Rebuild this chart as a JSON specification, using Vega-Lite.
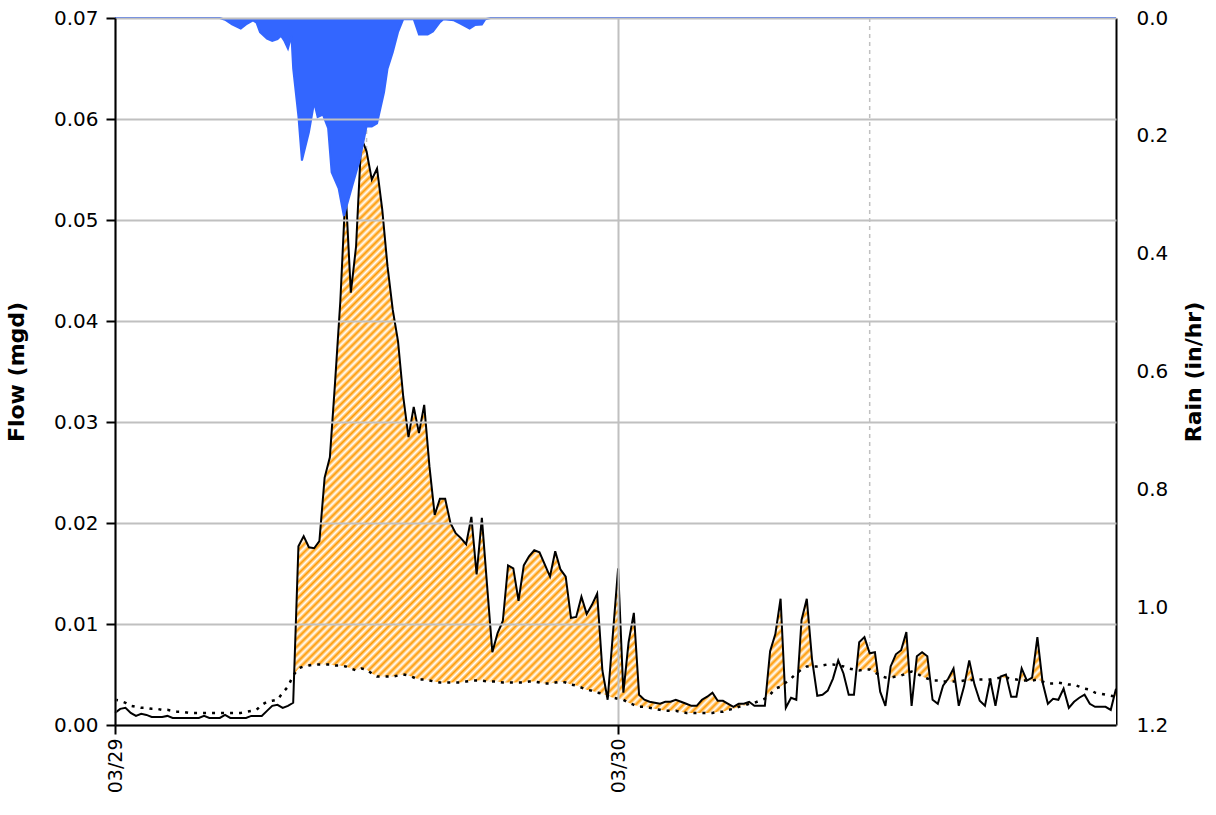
{
"$schema": "https://vega.github.io/schema/vega-lite/v6.json",
"width": 1001, "height": 707,
"autosize": {"type": "none"},
"padding": {"left": 115, "top": 18, "right": 100, "bottom": 90},
"background": "white",
"config": {"view": {"stroke": null}, "font": "DejaVu Sans"},
"datasets": {
"noon": [{"time": "2024-03-29T12:00"}, {"time": "2024-03-30T12:00"}],
"rain": [
{"time":"2024-03-29T00:00","rain":0},{"time":"2024-03-29T05:00","rain":0},{"time":"2024-03-29T05:15","rain":0.003},{"time":"2024-03-29T05:35","rain":0.011},{"time":"2024-03-29T06:00","rain":0.018},{"time":"2024-03-29T06:15","rain":0.011},{"time":"2024-03-29T06:35","rain":0.004},{"time":"2024-03-29T06:45","rain":0.008},{"time":"2024-03-29T06:55","rain":0.024},{"time":"2024-03-29T07:15","rain":0.035},{"time":"2024-03-29T07:30","rain":0.039},{"time":"2024-03-29T07:45","rain":0.036},{"time":"2024-03-29T07:55","rain":0.030},{"time":"2024-03-29T08:05","rain":0.039},{"time":"2024-03-29T08:15","rain":0.052},{"time":"2024-03-29T08:25","rain":0.030},{"time":"2024-03-29T08:30","rain":0.086},{"time":"2024-03-29T08:45","rain":0.167},{"time":"2024-03-29T08:55","rain":0.242},{"time":"2024-03-29T09:15","rain":0.194},{"time":"2024-03-29T09:30","rain":0.143},{"time":"2024-03-29T09:40","rain":0.168},{"time":"2024-03-29T09:55","rain":0.164},{"time":"2024-03-29T10:10","rain":0.187},{"time":"2024-03-29T10:20","rain":0.262},{"time":"2024-03-29T10:40","rain":0.289},{"time":"2024-03-29T10:55","rain":0.336},{"time":"2024-03-29T11:20","rain":0.283},{"time":"2024-03-29T11:40","rain":0.242},{"time":"2024-03-29T12:00","rain":0.184},{"time":"2024-03-29T12:15","rain":0.184},{"time":"2024-03-29T12:30","rain":0.179},{"time":"2024-03-29T12:50","rain":0.126},{"time":"2024-03-29T13:00","rain":0.086},{"time":"2024-03-29T13:15","rain":0.058},{"time":"2024-03-29T13:30","rain":0.024},{"time":"2024-03-29T13:45","rain":0.002},{"time":"2024-03-29T14:15","rain":0.002},{"time":"2024-03-29T14:30","rain":0.028},{"time":"2024-03-29T14:55","rain":0.028},{"time":"2024-03-29T15:10","rain":0.023},{"time":"2024-03-29T15:30","rain":0.007},{"time":"2024-03-29T15:40","rain":0.002},{"time":"2024-03-29T16:10","rain":0.004},{"time":"2024-03-29T16:30","rain":0.010},{"time":"2024-03-29T16:55","rain":0.018},{"time":"2024-03-29T17:10","rain":0.012},{"time":"2024-03-29T17:30","rain":0.011},{"time":"2024-03-29T17:40","rain":0.002},{"time":"2024-03-29T17:55","rain":0},{"time":"2024-03-30T23:45","rain":0}
],
"flow": [
{"time":"2024-03-29T00:00","flow":0.0012,"dwf":0.0025},{"time":"2024-03-29T00:15","flow":0.0016,"dwf":0.0024},{"time":"2024-03-29T00:30","flow":0.0017,"dwf":0.0022},{"time":"2024-03-29T00:45","flow":0.0012,"dwf":0.0019},
{"time":"2024-03-29T01:00","flow":0.0009,"dwf":0.0018},{"time":"2024-03-29T01:15","flow":0.0011,"dwf":0.0017},{"time":"2024-03-29T01:30","flow":0.0010,"dwf":0.0017},{"time":"2024-03-29T01:45","flow":0.0008,"dwf":0.0016},
{"time":"2024-03-29T02:00","flow":0.0008,"dwf":0.0016},{"time":"2024-03-29T02:15","flow":0.0008,"dwf":0.0015},{"time":"2024-03-29T02:30","flow":0.0009,"dwf":0.0015},{"time":"2024-03-29T02:45","flow":0.0007,"dwf":0.0014},
{"time":"2024-03-29T03:00","flow":0.0007,"dwf":0.0013},{"time":"2024-03-29T03:15","flow":0.0007,"dwf":0.0013},{"time":"2024-03-29T03:30","flow":0.0007,"dwf":0.0012},{"time":"2024-03-29T03:45","flow":0.0007,"dwf":0.0012},
{"time":"2024-03-29T04:00","flow":0.0007,"dwf":0.0012},{"time":"2024-03-29T04:15","flow":0.0009,"dwf":0.0012},{"time":"2024-03-29T04:30","flow":0.0007,"dwf":0.0012},{"time":"2024-03-29T04:45","flow":0.0007,"dwf":0.0012},
{"time":"2024-03-29T05:00","flow":0.0007,"dwf":0.0012},{"time":"2024-03-29T05:15","flow":0.0010,"dwf":0.0012},{"time":"2024-03-29T05:30","flow":0.0007,"dwf":0.0012},{"time":"2024-03-29T05:45","flow":0.0007,"dwf":0.0012},
{"time":"2024-03-29T06:00","flow":0.0007,"dwf":0.0012},{"time":"2024-03-29T06:15","flow":0.0007,"dwf":0.0013},{"time":"2024-03-29T06:30","flow":0.0009,"dwf":0.0014},{"time":"2024-03-29T06:45","flow":0.0009,"dwf":0.0015},
{"time":"2024-03-29T07:00","flow":0.0009,"dwf":0.0020},{"time":"2024-03-29T07:15","flow":0.0014,"dwf":0.0023},{"time":"2024-03-29T07:30","flow":0.0019,"dwf":0.0024},{"time":"2024-03-29T07:45","flow":0.0020,"dwf":0.0025},
{"time":"2024-03-29T08:00","flow":0.0017,"dwf":0.0032},{"time":"2024-03-29T08:15","flow":0.0019,"dwf":0.0038},{"time":"2024-03-29T08:30","flow":0.0022,"dwf":0.0049},{"time":"2024-03-29T08:45","flow":0.0177,"dwf":0.0056},
{"time":"2024-03-29T09:00","flow":0.0187,"dwf":0.0058},{"time":"2024-03-29T09:15","flow":0.0176,"dwf":0.0059},{"time":"2024-03-29T09:30","flow":0.0175,"dwf":0.0060},{"time":"2024-03-29T09:45","flow":0.0182,"dwf":0.0060},
{"time":"2024-03-29T10:00","flow":0.0245,"dwf":0.0060},{"time":"2024-03-29T10:15","flow":0.0265,"dwf":0.0060},{"time":"2024-03-29T10:30","flow":0.0340,"dwf":0.0059},{"time":"2024-03-29T10:45","flow":0.0420,"dwf":0.0059},
{"time":"2024-03-29T11:00","flow":0.0530,"dwf":0.0058},{"time":"2024-03-29T11:15","flow":0.0428,"dwf":0.0056},{"time":"2024-03-29T11:30","flow":0.0474,"dwf":0.0054},{"time":"2024-03-29T11:45","flow":0.0581,"dwf":0.0056},
{"time":"2024-03-29T12:00","flow":0.0568,"dwf":0.0055},{"time":"2024-03-29T12:15","flow":0.0540,"dwf":0.0051},{"time":"2024-03-29T12:30","flow":0.0551,"dwf":0.0048},{"time":"2024-03-29T12:45","flow":0.0510,"dwf":0.0048},
{"time":"2024-03-29T13:00","flow":0.0454,"dwf":0.0048},{"time":"2024-03-29T13:15","flow":0.0411,"dwf":0.0048},{"time":"2024-03-29T13:30","flow":0.0380,"dwf":0.0049},{"time":"2024-03-29T13:45","flow":0.0325,"dwf":0.0050},
{"time":"2024-03-29T14:00","flow":0.0285,"dwf":0.0049},{"time":"2024-03-29T14:15","flow":0.0315,"dwf":0.0047},{"time":"2024-03-29T14:30","flow":0.0289,"dwf":0.0045},{"time":"2024-03-29T14:45","flow":0.0317,"dwf":0.0045},
{"time":"2024-03-29T15:00","flow":0.0256,"dwf":0.0044},{"time":"2024-03-29T15:15","flow":0.0208,"dwf":0.0043},{"time":"2024-03-29T15:30","flow":0.0224,"dwf":0.0042},{"time":"2024-03-29T15:45","flow":0.0224,"dwf":0.0042},
{"time":"2024-03-29T16:00","flow":0.0200,"dwf":0.0042},{"time":"2024-03-29T16:15","flow":0.0190,"dwf":0.0042},{"time":"2024-03-29T16:30","flow":0.0185,"dwf":0.0042},{"time":"2024-03-29T16:45","flow":0.0179,"dwf":0.0043},
{"time":"2024-03-29T17:00","flow":0.0206,"dwf":0.0044},{"time":"2024-03-29T17:15","flow":0.0149,"dwf":0.0044},{"time":"2024-03-29T17:30","flow":0.0205,"dwf":0.0044},{"time":"2024-03-29T17:45","flow":0.0138,"dwf":0.0043},
{"time":"2024-03-29T18:00","flow":0.0072,"dwf":0.0043},{"time":"2024-03-29T18:15","flow":0.0091,"dwf":0.0043},{"time":"2024-03-29T18:30","flow":0.0103,"dwf":0.0042},{"time":"2024-03-29T18:45","flow":0.0158,"dwf":0.0042},
{"time":"2024-03-29T19:00","flow":0.0155,"dwf":0.0042},{"time":"2024-03-29T19:15","flow":0.0123,"dwf":0.0042},{"time":"2024-03-29T19:30","flow":0.0158,"dwf":0.0042},{"time":"2024-03-29T19:45","flow":0.0167,"dwf":0.0043},
{"time":"2024-03-29T20:00","flow":0.0173,"dwf":0.0043},{"time":"2024-03-29T20:15","flow":0.0171,"dwf":0.0042},{"time":"2024-03-29T20:30","flow":0.0159,"dwf":0.0041},{"time":"2024-03-29T20:45","flow":0.0147,"dwf":0.0041},
{"time":"2024-03-29T21:00","flow":0.0172,"dwf":0.0042},{"time":"2024-03-29T21:15","flow":0.0154,"dwf":0.0043},{"time":"2024-03-29T21:30","flow":0.0147,"dwf":0.0042},{"time":"2024-03-29T21:45","flow":0.0106,"dwf":0.0040},
{"time":"2024-03-29T22:00","flow":0.0107,"dwf":0.0039},{"time":"2024-03-29T22:15","flow":0.0127,"dwf":0.0037},{"time":"2024-03-29T22:30","flow":0.0110,"dwf":0.0035},{"time":"2024-03-29T22:45","flow":0.0119,"dwf":0.0034},
{"time":"2024-03-29T23:00","flow":0.0130,"dwf":0.0032},{"time":"2024-03-29T23:15","flow":0.0054,"dwf":0.0031},{"time":"2024-03-29T23:30","flow":0.0025,"dwf":0.0029},{"time":"2024-03-29T23:45","flow":0.0090,"dwf":0.0027},
{"time":"2024-03-30T00:00","flow":0.0155,"dwf":0.0026},{"time":"2024-03-30T00:15","flow":0.0032,"dwf":0.0025},{"time":"2024-03-30T00:30","flow":0.0082,"dwf":0.0022},{"time":"2024-03-30T00:45","flow":0.0111,"dwf":0.0020},
{"time":"2024-03-30T01:00","flow":0.0030,"dwf":0.0018},{"time":"2024-03-30T01:15","flow":0.0025,"dwf":0.0018},{"time":"2024-03-30T01:30","flow":0.0023,"dwf":0.0017},{"time":"2024-03-30T01:45","flow":0.0022,"dwf":0.0016},
{"time":"2024-03-30T02:00","flow":0.0021,"dwf":0.0015},{"time":"2024-03-30T02:15","flow":0.0023,"dwf":0.0014},{"time":"2024-03-30T02:30","flow":0.0023,"dwf":0.0014},{"time":"2024-03-30T02:45","flow":0.0025,"dwf":0.0014},
{"time":"2024-03-30T03:00","flow":0.0023,"dwf":0.0013},{"time":"2024-03-30T03:15","flow":0.0021,"dwf":0.0012},{"time":"2024-03-30T03:30","flow":0.0019,"dwf":0.0012},{"time":"2024-03-30T03:45","flow":0.0019,"dwf":0.0012},
{"time":"2024-03-30T04:00","flow":0.0025,"dwf":0.0012},{"time":"2024-03-30T04:15","flow":0.0028,"dwf":0.0012},{"time":"2024-03-30T04:30","flow":0.0032,"dwf":0.0012},{"time":"2024-03-30T04:45","flow":0.0024,"dwf":0.0013},
{"time":"2024-03-30T05:00","flow":0.0024,"dwf":0.0013},{"time":"2024-03-30T05:15","flow":0.0021,"dwf":0.0015},{"time":"2024-03-30T05:30","flow":0.0018,"dwf":0.0016},{"time":"2024-03-30T05:45","flow":0.0021,"dwf":0.0018},
{"time":"2024-03-30T06:00","flow":0.0021,"dwf":0.0019},{"time":"2024-03-30T06:15","flow":0.0023,"dwf":0.0021},{"time":"2024-03-30T06:30","flow":0.0019,"dwf":0.0022},{"time":"2024-03-30T06:45","flow":0.0019,"dwf":0.0024},
{"time":"2024-03-30T07:00","flow":0.0019,"dwf":0.0026},{"time":"2024-03-30T07:15","flow":0.0073,"dwf":0.0030},{"time":"2024-03-30T07:30","flow":0.0090,"dwf":0.0036},{"time":"2024-03-30T07:45","flow":0.0125,"dwf":0.0038},
{"time":"2024-03-30T08:00","flow":0.0017,"dwf":0.0042},{"time":"2024-03-30T08:15","flow":0.0027,"dwf":0.0046},{"time":"2024-03-30T08:30","flow":0.0025,"dwf":0.0051},{"time":"2024-03-30T08:45","flow":0.0104,"dwf":0.0055},
{"time":"2024-03-30T09:00","flow":0.0125,"dwf":0.0058},{"time":"2024-03-30T09:15","flow":0.0065,"dwf":0.0058},{"time":"2024-03-30T09:30","flow":0.0029,"dwf":0.0058},{"time":"2024-03-30T09:45","flow":0.0030,"dwf":0.0059},
{"time":"2024-03-30T10:00","flow":0.0034,"dwf":0.0060},{"time":"2024-03-30T10:15","flow":0.0046,"dwf":0.0060},{"time":"2024-03-30T10:30","flow":0.0064,"dwf":0.0059},{"time":"2024-03-30T10:45","flow":0.0051,"dwf":0.0058},
{"time":"2024-03-30T11:00","flow":0.0030,"dwf":0.0056},{"time":"2024-03-30T11:15","flow":0.0030,"dwf":0.0055},{"time":"2024-03-30T11:30","flow":0.0082,"dwf":0.0054},{"time":"2024-03-30T11:45","flow":0.0087,"dwf":0.0055},
{"time":"2024-03-30T12:00","flow":0.0071,"dwf":0.0055},{"time":"2024-03-30T12:15","flow":0.0072,"dwf":0.0052},{"time":"2024-03-30T12:30","flow":0.0033,"dwf":0.0049},{"time":"2024-03-30T12:45","flow":0.0019,"dwf":0.0047},
{"time":"2024-03-30T13:00","flow":0.0058,"dwf":0.0047},{"time":"2024-03-30T13:15","flow":0.0070,"dwf":0.0048},{"time":"2024-03-30T13:30","flow":0.0074,"dwf":0.0049},{"time":"2024-03-30T13:45","flow":0.0092,"dwf":0.0051},
{"time":"2024-03-30T14:00","flow":0.0019,"dwf":0.0053},{"time":"2024-03-30T14:15","flow":0.0068,"dwf":0.0051},{"time":"2024-03-30T14:30","flow":0.0072,"dwf":0.0048},{"time":"2024-03-30T14:45","flow":0.0068,"dwf":0.0046},
{"time":"2024-03-30T15:00","flow":0.0025,"dwf":0.0044},{"time":"2024-03-30T15:15","flow":0.0021,"dwf":0.0044},{"time":"2024-03-30T15:30","flow":0.0039,"dwf":0.0043},{"time":"2024-03-30T15:45","flow":0.0046,"dwf":0.0043},
{"time":"2024-03-30T16:00","flow":0.0056,"dwf":0.0043},{"time":"2024-03-30T16:15","flow":0.0019,"dwf":0.0043},{"time":"2024-03-30T16:30","flow":0.0038,"dwf":0.0044},{"time":"2024-03-30T16:45","flow":0.0064,"dwf":0.0044},
{"time":"2024-03-30T17:00","flow":0.0040,"dwf":0.0045},{"time":"2024-03-30T17:15","flow":0.0024,"dwf":0.0045},{"time":"2024-03-30T17:30","flow":0.0019,"dwf":0.0045},{"time":"2024-03-30T17:45","flow":0.0045,"dwf":0.0045},
{"time":"2024-03-30T18:00","flow":0.0019,"dwf":0.0046},{"time":"2024-03-30T18:15","flow":0.0048,"dwf":0.0047},{"time":"2024-03-30T18:30","flow":0.0050,"dwf":0.0047},{"time":"2024-03-30T18:45","flow":0.0028,"dwf":0.0046},
{"time":"2024-03-30T19:00","flow":0.0028,"dwf":0.0045},{"time":"2024-03-30T19:15","flow":0.0056,"dwf":0.0044},{"time":"2024-03-30T19:30","flow":0.0044,"dwf":0.0044},{"time":"2024-03-30T19:45","flow":0.0047,"dwf":0.0044},
{"time":"2024-03-30T20:00","flow":0.0087,"dwf":0.0045},{"time":"2024-03-30T20:15","flow":0.0042,"dwf":0.0043},{"time":"2024-03-30T20:30","flow":0.0021,"dwf":0.0041},{"time":"2024-03-30T20:45","flow":0.0026,"dwf":0.0041},
{"time":"2024-03-30T21:00","flow":0.0025,"dwf":0.0042},{"time":"2024-03-30T21:15","flow":0.0036,"dwf":0.0041},{"time":"2024-03-30T21:30","flow":0.0017,"dwf":0.0040},{"time":"2024-03-30T21:45","flow":0.0023,"dwf":0.0040},
{"time":"2024-03-30T22:00","flow":0.0027,"dwf":0.0038},{"time":"2024-03-30T22:15","flow":0.0030,"dwf":0.0036},{"time":"2024-03-30T22:30","flow":0.0021,"dwf":0.0035},{"time":"2024-03-30T22:45","flow":0.0018,"dwf":0.0032},
{"time":"2024-03-30T23:00","flow":0.0018,"dwf":0.0031},{"time":"2024-03-30T23:15","flow":0.0018,"dwf":0.0030},{"time":"2024-03-30T23:30","flow":0.0015,"dwf":0.0029},{"time":"2024-03-30T23:45","flow":0.0036,"dwf":0.0028}
]
},
"layer": [
{"data": {"name": "noon"},
 "mark": {"type": "rule", "color": "#c0c0c0", "strokeDash": [4, 4], "strokeWidth": 1.5},
 "encoding": {
  "x": {"field": "time", "type": "temporal", "title": null,
   "scale": {"domain": [{"year": 2024, "month": 3, "date": 29, "hours": 0, "minutes": 0}, {"year": 2024, "month": 3, "date": 30, "hours": 23, "minutes": 45}], "nice": false},
   "axis": {"values": [{"year": 2024, "month": 3, "date": 29}, {"year": 2024, "month": 3, "date": 30}], "format": "%m/%d", "labelAngle": 270, "labelAlign": "right", "labelBaseline": "middle", "labelFontSize": 19, "labelColor": "black", "labelPadding": 4, "tickSize": 9, "tickWidth": 2, "tickColor": "black", "domainColor": "black", "domainWidth": 2, "grid": true, "gridColor": "#c0c0c0", "gridWidth": 2, "zindex": 1}}
 }},
{"data": {"name": "flow"},
 "layer": [
  {"mark": {"type": "area", "opacity": 1, "fill": {"gradient": "linear", "x1": 0, "y1": 0, "x2": 1.18, "y2": 0.692, "stops": [
{"offset":0,"color":"#f90"},{"offset":0.0025,"color":"#fff"},{"offset":0.005,"color":"#f90"},{"offset":0.0075,"color":"#fff"},
{"offset":0.01,"color":"#f90"},{"offset":0.0125,"color":"#fff"},{"offset":0.015,"color":"#f90"},{"offset":0.0175,"color":"#fff"},
{"offset":0.02,"color":"#f90"},{"offset":0.0225,"color":"#fff"},{"offset":0.025,"color":"#f90"},{"offset":0.0275,"color":"#fff"},
{"offset":0.03,"color":"#f90"},{"offset":0.0325,"color":"#fff"},{"offset":0.035,"color":"#f90"},{"offset":0.0375,"color":"#fff"},
{"offset":0.04,"color":"#f90"},{"offset":0.0425,"color":"#fff"},{"offset":0.045,"color":"#f90"},{"offset":0.0475,"color":"#fff"},
{"offset":0.05,"color":"#f90"},{"offset":0.0525,"color":"#fff"},{"offset":0.055,"color":"#f90"},{"offset":0.0575,"color":"#fff"},
{"offset":0.06,"color":"#f90"},{"offset":0.0625,"color":"#fff"},{"offset":0.065,"color":"#f90"},{"offset":0.0675,"color":"#fff"},
{"offset":0.07,"color":"#f90"},{"offset":0.0725,"color":"#fff"},{"offset":0.075,"color":"#f90"},{"offset":0.0775,"color":"#fff"},
{"offset":0.08,"color":"#f90"},{"offset":0.0825,"color":"#fff"},{"offset":0.085,"color":"#f90"},{"offset":0.0875,"color":"#fff"},
{"offset":0.09,"color":"#f90"},{"offset":0.0925,"color":"#fff"},{"offset":0.095,"color":"#f90"},{"offset":0.0975,"color":"#fff"},
{"offset":0.1,"color":"#f90"},{"offset":0.1025,"color":"#fff"},{"offset":0.105,"color":"#f90"},{"offset":0.1075,"color":"#fff"},
{"offset":0.11,"color":"#f90"},{"offset":0.1125,"color":"#fff"},{"offset":0.115,"color":"#f90"},{"offset":0.1175,"color":"#fff"},
{"offset":0.12,"color":"#f90"},{"offset":0.1225,"color":"#fff"},{"offset":0.125,"color":"#f90"},{"offset":0.1275,"color":"#fff"},
{"offset":0.13,"color":"#f90"},{"offset":0.1325,"color":"#fff"},{"offset":0.135,"color":"#f90"},{"offset":0.1375,"color":"#fff"},
{"offset":0.14,"color":"#f90"},{"offset":0.1425,"color":"#fff"},{"offset":0.145,"color":"#f90"},{"offset":0.1475,"color":"#fff"},
{"offset":0.15,"color":"#f90"},{"offset":0.1525,"color":"#fff"},{"offset":0.155,"color":"#f90"},{"offset":0.1575,"color":"#fff"},
{"offset":0.16,"color":"#f90"},{"offset":0.1625,"color":"#fff"},{"offset":0.165,"color":"#f90"},{"offset":0.1675,"color":"#fff"},
{"offset":0.17,"color":"#f90"},{"offset":0.1725,"color":"#fff"},{"offset":0.175,"color":"#f90"},{"offset":0.1775,"color":"#fff"},
{"offset":0.18,"color":"#f90"},{"offset":0.1825,"color":"#fff"},{"offset":0.185,"color":"#f90"},{"offset":0.1875,"color":"#fff"},
{"offset":0.19,"color":"#f90"},{"offset":0.1925,"color":"#fff"},{"offset":0.195,"color":"#f90"},{"offset":0.1975,"color":"#fff"},
{"offset":0.2,"color":"#f90"},{"offset":0.2025,"color":"#fff"},{"offset":0.205,"color":"#f90"},{"offset":0.2075,"color":"#fff"},
{"offset":0.21,"color":"#f90"},{"offset":0.2125,"color":"#fff"},{"offset":0.215,"color":"#f90"},{"offset":0.2175,"color":"#fff"},
{"offset":0.22,"color":"#f90"},{"offset":0.2225,"color":"#fff"},{"offset":0.225,"color":"#f90"},{"offset":0.2275,"color":"#fff"},
{"offset":0.23,"color":"#f90"},{"offset":0.2325,"color":"#fff"},{"offset":0.235,"color":"#f90"},{"offset":0.2375,"color":"#fff"},
{"offset":0.24,"color":"#f90"},{"offset":0.2425,"color":"#fff"},{"offset":0.245,"color":"#f90"},{"offset":0.2475,"color":"#fff"},
{"offset":0.25,"color":"#f90"},{"offset":0.2525,"color":"#fff"},{"offset":0.255,"color":"#f90"},{"offset":0.2575,"color":"#fff"},
{"offset":0.26,"color":"#f90"},{"offset":0.2625,"color":"#fff"},{"offset":0.265,"color":"#f90"},{"offset":0.2675,"color":"#fff"},
{"offset":0.27,"color":"#f90"},{"offset":0.2725,"color":"#fff"},{"offset":0.275,"color":"#f90"},{"offset":0.2775,"color":"#fff"},
{"offset":0.28,"color":"#f90"},{"offset":0.2825,"color":"#fff"},{"offset":0.285,"color":"#f90"},{"offset":0.2875,"color":"#fff"},
{"offset":0.29,"color":"#f90"},{"offset":0.2925,"color":"#fff"},{"offset":0.295,"color":"#f90"},{"offset":0.2975,"color":"#fff"},
{"offset":0.3,"color":"#f90"},{"offset":0.3025,"color":"#fff"},{"offset":0.305,"color":"#f90"},{"offset":0.3075,"color":"#fff"},
{"offset":0.31,"color":"#f90"},{"offset":0.3125,"color":"#fff"},{"offset":0.315,"color":"#f90"},{"offset":0.3175,"color":"#fff"},
{"offset":0.32,"color":"#f90"},{"offset":0.3225,"color":"#fff"},{"offset":0.325,"color":"#f90"},{"offset":0.3275,"color":"#fff"},
{"offset":0.33,"color":"#f90"},{"offset":0.3325,"color":"#fff"},{"offset":0.335,"color":"#f90"},{"offset":0.3375,"color":"#fff"},
{"offset":0.34,"color":"#f90"},{"offset":0.3425,"color":"#fff"},{"offset":0.345,"color":"#f90"},{"offset":0.3475,"color":"#fff"},
{"offset":0.35,"color":"#f90"},{"offset":0.3525,"color":"#fff"},{"offset":0.355,"color":"#f90"},{"offset":0.3575,"color":"#fff"},
{"offset":0.36,"color":"#f90"},{"offset":0.3625,"color":"#fff"},{"offset":0.365,"color":"#f90"},{"offset":0.3675,"color":"#fff"},
{"offset":0.37,"color":"#f90"},{"offset":0.3725,"color":"#fff"},{"offset":0.375,"color":"#f90"},{"offset":0.3775,"color":"#fff"},
{"offset":0.38,"color":"#f90"},{"offset":0.3825,"color":"#fff"},{"offset":0.385,"color":"#f90"},{"offset":0.3875,"color":"#fff"},
{"offset":0.39,"color":"#f90"},{"offset":0.3925,"color":"#fff"},{"offset":0.395,"color":"#f90"},{"offset":0.3975,"color":"#fff"},
{"offset":0.4,"color":"#f90"},{"offset":0.4025,"color":"#fff"},{"offset":0.405,"color":"#f90"},{"offset":0.4075,"color":"#fff"},
{"offset":0.41,"color":"#f90"},{"offset":0.4125,"color":"#fff"},{"offset":0.415,"color":"#f90"},{"offset":0.4175,"color":"#fff"},
{"offset":0.42,"color":"#f90"},{"offset":0.4225,"color":"#fff"},{"offset":0.425,"color":"#f90"},{"offset":0.4275,"color":"#fff"},
{"offset":0.43,"color":"#f90"},{"offset":0.4325,"color":"#fff"},{"offset":0.435,"color":"#f90"},{"offset":0.4375,"color":"#fff"},
{"offset":0.44,"color":"#f90"},{"offset":0.4425,"color":"#fff"},{"offset":0.445,"color":"#f90"},{"offset":0.4475,"color":"#fff"},
{"offset":0.45,"color":"#f90"},{"offset":0.4525,"color":"#fff"},{"offset":0.455,"color":"#f90"},{"offset":0.4575,"color":"#fff"},
{"offset":0.46,"color":"#f90"},{"offset":0.4625,"color":"#fff"},{"offset":0.465,"color":"#f90"},{"offset":0.4675,"color":"#fff"},
{"offset":0.47,"color":"#f90"},{"offset":0.4725,"color":"#fff"},{"offset":0.475,"color":"#f90"},{"offset":0.4775,"color":"#fff"},
{"offset":0.48,"color":"#f90"},{"offset":0.4825,"color":"#fff"},{"offset":0.485,"color":"#f90"},{"offset":0.4875,"color":"#fff"},
{"offset":0.49,"color":"#f90"},{"offset":0.4925,"color":"#fff"},{"offset":0.495,"color":"#f90"},{"offset":0.4975,"color":"#fff"},
{"offset":0.5,"color":"#f90"},{"offset":0.5025,"color":"#fff"},{"offset":0.505,"color":"#f90"},{"offset":0.5075,"color":"#fff"},
{"offset":0.51,"color":"#f90"},{"offset":0.5125,"color":"#fff"},{"offset":0.515,"color":"#f90"},{"offset":0.5175,"color":"#fff"},
{"offset":0.52,"color":"#f90"},{"offset":0.5225,"color":"#fff"},{"offset":0.525,"color":"#f90"},{"offset":0.5275,"color":"#fff"},
{"offset":0.53,"color":"#f90"},{"offset":0.5325,"color":"#fff"},{"offset":0.535,"color":"#f90"},{"offset":0.5375,"color":"#fff"},
{"offset":0.54,"color":"#f90"},{"offset":0.5425,"color":"#fff"},{"offset":0.545,"color":"#f90"},{"offset":0.5475,"color":"#fff"},
{"offset":0.55,"color":"#f90"},{"offset":0.5525,"color":"#fff"},{"offset":0.555,"color":"#f90"},{"offset":0.5575,"color":"#fff"},
{"offset":0.56,"color":"#f90"},{"offset":0.5625,"color":"#fff"},{"offset":0.565,"color":"#f90"},{"offset":0.5675,"color":"#fff"},
{"offset":0.57,"color":"#f90"},{"offset":0.5725,"color":"#fff"},{"offset":0.575,"color":"#f90"},{"offset":0.5775,"color":"#fff"},
{"offset":0.58,"color":"#f90"},{"offset":0.5825,"color":"#fff"},{"offset":0.585,"color":"#f90"},{"offset":0.5875,"color":"#fff"},
{"offset":0.59,"color":"#f90"},{"offset":0.5925,"color":"#fff"},{"offset":0.595,"color":"#f90"},{"offset":0.5975,"color":"#fff"},
{"offset":0.6,"color":"#f90"},{"offset":0.6025,"color":"#fff"},{"offset":0.605,"color":"#f90"},{"offset":0.6075,"color":"#fff"},
{"offset":0.61,"color":"#f90"},{"offset":0.6125,"color":"#fff"},{"offset":0.615,"color":"#f90"},{"offset":0.6175,"color":"#fff"},
{"offset":0.62,"color":"#f90"},{"offset":0.6225,"color":"#fff"},{"offset":0.625,"color":"#f90"},{"offset":0.6275,"color":"#fff"},
{"offset":0.63,"color":"#f90"},{"offset":0.6325,"color":"#fff"},{"offset":0.635,"color":"#f90"},{"offset":0.6375,"color":"#fff"},
{"offset":0.64,"color":"#f90"},{"offset":0.6425,"color":"#fff"},{"offset":0.645,"color":"#f90"},{"offset":0.6475,"color":"#fff"},
{"offset":0.65,"color":"#f90"},{"offset":0.6525,"color":"#fff"},{"offset":0.655,"color":"#f90"},{"offset":0.6575,"color":"#fff"},
{"offset":0.66,"color":"#f90"},{"offset":0.6625,"color":"#fff"},{"offset":0.665,"color":"#f90"},{"offset":0.6675,"color":"#fff"},
{"offset":0.67,"color":"#f90"},{"offset":0.6725,"color":"#fff"},{"offset":0.675,"color":"#f90"},{"offset":0.6775,"color":"#fff"},
{"offset":0.68,"color":"#f90"},{"offset":0.6825,"color":"#fff"},{"offset":0.685,"color":"#f90"},{"offset":0.6875,"color":"#fff"},
{"offset":0.69,"color":"#f90"},{"offset":0.6925,"color":"#fff"},{"offset":0.695,"color":"#f90"},{"offset":0.6975,"color":"#fff"},
{"offset":0.7,"color":"#f90"},{"offset":0.7025,"color":"#fff"},{"offset":0.705,"color":"#f90"},{"offset":0.7075,"color":"#fff"},
{"offset":0.71,"color":"#f90"},{"offset":0.7125,"color":"#fff"},{"offset":0.715,"color":"#f90"},{"offset":0.7175,"color":"#fff"},
{"offset":0.72,"color":"#f90"},{"offset":0.7225,"color":"#fff"},{"offset":0.725,"color":"#f90"},{"offset":0.7275,"color":"#fff"},
{"offset":0.73,"color":"#f90"},{"offset":0.7325,"color":"#fff"},{"offset":0.735,"color":"#f90"},{"offset":0.7375,"color":"#fff"},
{"offset":0.74,"color":"#f90"},{"offset":0.7425,"color":"#fff"},{"offset":0.745,"color":"#f90"},{"offset":0.7475,"color":"#fff"},
{"offset":0.75,"color":"#f90"},{"offset":0.7525,"color":"#fff"},{"offset":0.755,"color":"#f90"},{"offset":0.7575,"color":"#fff"},
{"offset":0.76,"color":"#f90"},{"offset":0.7625,"color":"#fff"},{"offset":0.765,"color":"#f90"},{"offset":0.7675,"color":"#fff"},
{"offset":0.77,"color":"#f90"},{"offset":0.7725,"color":"#fff"},{"offset":0.775,"color":"#f90"},{"offset":0.7775,"color":"#fff"},
{"offset":0.78,"color":"#f90"},{"offset":0.7825,"color":"#fff"},{"offset":0.785,"color":"#f90"},{"offset":0.7875,"color":"#fff"},
{"offset":0.79,"color":"#f90"},{"offset":0.7925,"color":"#fff"},{"offset":0.795,"color":"#f90"},{"offset":0.7975,"color":"#fff"},
{"offset":0.8,"color":"#f90"},{"offset":0.8025,"color":"#fff"},{"offset":0.805,"color":"#f90"},{"offset":0.8075,"color":"#fff"},
{"offset":0.81,"color":"#f90"},{"offset":0.8125,"color":"#fff"},{"offset":0.815,"color":"#f90"},{"offset":0.8175,"color":"#fff"},
{"offset":0.82,"color":"#f90"},{"offset":0.8225,"color":"#fff"},{"offset":0.825,"color":"#f90"},{"offset":0.8275,"color":"#fff"},
{"offset":0.83,"color":"#f90"},{"offset":0.8325,"color":"#fff"},{"offset":0.835,"color":"#f90"},{"offset":0.8375,"color":"#fff"},
{"offset":0.84,"color":"#f90"},{"offset":0.8425,"color":"#fff"},{"offset":0.845,"color":"#f90"},{"offset":0.8475,"color":"#fff"},
{"offset":0.85,"color":"#f90"},{"offset":0.8525,"color":"#fff"},{"offset":0.855,"color":"#f90"},{"offset":0.8575,"color":"#fff"},
{"offset":0.86,"color":"#f90"},{"offset":0.8625,"color":"#fff"},{"offset":0.865,"color":"#f90"},{"offset":0.8675,"color":"#fff"},
{"offset":0.87,"color":"#f90"},{"offset":0.8725,"color":"#fff"},{"offset":0.875,"color":"#f90"},{"offset":0.8775,"color":"#fff"},
{"offset":0.88,"color":"#f90"},{"offset":0.8825,"color":"#fff"},{"offset":0.885,"color":"#f90"},{"offset":0.8875,"color":"#fff"},
{"offset":0.89,"color":"#f90"},{"offset":0.8925,"color":"#fff"},{"offset":0.895,"color":"#f90"},{"offset":0.8975,"color":"#fff"},
{"offset":0.9,"color":"#f90"},{"offset":0.9025,"color":"#fff"},{"offset":0.905,"color":"#f90"},{"offset":0.9075,"color":"#fff"},
{"offset":0.91,"color":"#f90"},{"offset":0.9125,"color":"#fff"},{"offset":0.915,"color":"#f90"},{"offset":0.9175,"color":"#fff"},
{"offset":0.92,"color":"#f90"},{"offset":0.9225,"color":"#fff"},{"offset":0.925,"color":"#f90"},{"offset":0.9275,"color":"#fff"},
{"offset":0.93,"color":"#f90"},{"offset":0.9325,"color":"#fff"},{"offset":0.935,"color":"#f90"},{"offset":0.9375,"color":"#fff"},
{"offset":0.94,"color":"#f90"},{"offset":0.9425,"color":"#fff"},{"offset":0.945,"color":"#f90"},{"offset":0.9475,"color":"#fff"},
{"offset":0.95,"color":"#f90"},{"offset":0.9525,"color":"#fff"},{"offset":0.955,"color":"#f90"},{"offset":0.9575,"color":"#fff"},
{"offset":0.96,"color":"#f90"},{"offset":0.9625,"color":"#fff"},{"offset":0.965,"color":"#f90"},{"offset":0.9675,"color":"#fff"},
{"offset":0.97,"color":"#f90"},{"offset":0.9725,"color":"#fff"},{"offset":0.975,"color":"#f90"},{"offset":0.9775,"color":"#fff"},
{"offset":0.98,"color":"#f90"},{"offset":0.9825,"color":"#fff"},{"offset":0.985,"color":"#f90"},{"offset":0.9875,"color":"#fff"},
{"offset":0.99,"color":"#f90"},{"offset":0.9925,"color":"#fff"},{"offset":0.995,"color":"#f90"},{"offset":0.9975,"color":"#fff"},
{"offset":1,"color":"#f90"}
]}},
   "encoding": {
    "x": {"field": "time", "type": "temporal", "title": null},
    "y": {"field": "flow", "type": "quantitative", "scale": {"domain": [0, 0.07], "nice": false},
     "axis": {"orient": "left", "values": [0, 0.01, 0.02, 0.03, 0.04, 0.05, 0.06, 0.07], "format": ".2f", "title": "Flow (mgd)", "titleFontSize": 22, "titleFontWeight": "bold", "titleColor": "black", "titlePadding": 25, "labelFontSize": 20, "labelColor": "black", "labelPadding": 8, "tickSize": 9, "tickWidth": 2, "tickColor": "black", "domainColor": "black", "domainWidth": 2, "grid": true, "gridColor": "#c0c0c0", "gridWidth": 2, "zindex": 1}}
   }},
  {"mark": {"type": "area", "color": "white", "opacity": 1},
   "encoding": {
    "x": {"field": "time", "type": "temporal", "title": null},
    "y": {"field": "dwf", "type": "quantitative", "scale": {"domain": [0, 0.07], "nice": false}, "title": "Flow (mgd)"}
   }},
  {"mark": {"type": "line", "color": "black", "strokeWidth": 2},
   "encoding": {
    "x": {"field": "time", "type": "temporal", "title": null},
    "y": {"field": "flow", "type": "quantitative", "scale": {"domain": [0, 0.07], "nice": false}, "title": "Flow (mgd)"}
   }},
  {"mark": {"type": "line", "color": "black", "strokeWidth": 2.5, "strokeDash": [3, 6]},
   "encoding": {
    "x": {"field": "time", "type": "temporal", "title": null},
    "y": {"field": "dwf", "type": "quantitative", "scale": {"domain": [0, 0.07], "nice": false}, "title": "Flow (mgd)"}
   }}
 ]},
{"data": {"name": "rain"},
 "mark": {"type": "area", "color": "#3366FF", "opacity": 1, "line": {"color": "#3366FF", "strokeWidth": 2}},
 "encoding": {
  "x": {"field": "time", "type": "temporal", "title": null},
  "y": {"field": "rain", "type": "quantitative", "scale": {"domain": [0, 1.2], "reverse": true, "nice": false},
   "axis": {"orient": "right", "values": [0, 0.2, 0.4, 0.6, 0.8, 1, 1.2], "format": ".1f", "title": "Rain (in/hr)", "titleAngle": 270, "titleBaseline": "top", "titleFontSize": 22, "titleFontWeight": "bold", "titleColor": "black", "titlePadding": 16, "labelFontSize": 20, "labelColor": "black", "labelPadding": 20, "ticks": false, "domainColor": "black", "domainWidth": 2, "grid": false}}
 }}
],
"resolve": {"scale": {"y": "independent"}}
}
